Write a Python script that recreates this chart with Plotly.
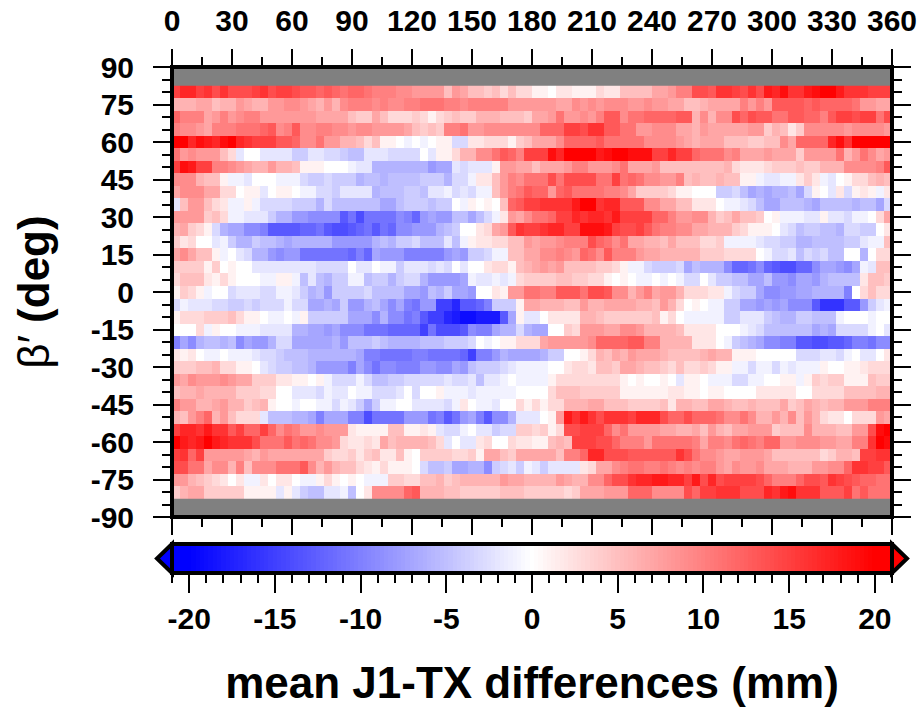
import numpy as np
import plotly.graph_objects as go

# mean J1-TX differences (mm), each latitude band from 0 to 360 deg in 4 deg bins
lat_p80 = [15,17,17,15,16,14,16,14,14,14,15,16,14,15,15,14,13,13,12,13,12,11,12,12,11,10,10,10,9,9,8,8,8,8,5,8,7,5,5,4,5,3,5,3,3,
           1,1,0,2,2,1,1,1,3,2,2,5,5,5,5,7,7,8,10,10,14,14,13,16,16,15,14,16,14,18,17,19,16,16,18,19,20,20,18,16,16,16,15,15,15]
lat_p75 = [6,6,6,7,7,5,6,6,8,7,6,6,8,8,9,9,8,7,6,8,6,9,10,10,10,9,10,9,9,10,10,11,11,11,10,10,9,10,10,10,10,10,8,8,8,
           8,8,8,7,7,9,8,9,8,9,9,9,8,8,9,8,8,7,7,5,5,6,7,7,7,7,10,8,10,8,13,13,13,13,12,13,12,12,12,12,11,8,8,7,7]
lat_p70 = [12,10,10,10,7,8,10,8,9,10,10,8,8,8,8,8,8,8,7,7,7,7,5,4,4,7,5,3,3,3,4,3,1,3,4,5,4,4,6,6,6,5,5,5,4,
           7,7,8,11,8,8,9,8,10,13,13,9,11,11,12,12,12,12,13,13,6,9,6,9,9,14,12,14,13,13,11,11,13,13,12,12,10,13,15,15,14,15,15,11,14]
lat_p65 = [10,9,9,8,7,10,10,10,11,11,11,12,13,9,10,13,9,9,10,10,9,9,8,9,9,8,8,8,8,7,5,4,5,4,10,10,11,8,8,9,9,9,9,9,9,
           9,12,12,12,15,15,14,16,16,13,13,11,11,8,8,9,9,9,7,7,6,8,7,7,7,7,7,8,8,4,6,5,2,4,9,9,9,9,9,8,9,9,9,9,8]
lat_p60 = [20,20,17,19,18,17,19,20,17,16,15,15,15,13,13,12,9,9,11,8,8,6,6,5,3,5,1,1,0,-1,0,-1,0,1,1,-3,-3,2,2,3,3,3,1,4,5,
           7,7,7,9,12,12,12,12,13,11,11,11,11,11,9,9,9,9,8,7,6,7,7,7,5,5,5,4,4,5,5,9,7,12,12,12,12,17,19,16,20,20,20,20,20]
lat_p55 = [11,8,9,8,8,8,5,3,-2,0,0,-2,-2,-2,-2,-4,-4,-2,-2,-3,-3,-4,-5,-5,-2,-2,-2,-3,-3,-3,-3,0,-2,1,1,3,6,6,9,9,11,13,12,10,15,
           15,15,19,17,20,20,20,20,18,19,20,20,19,19,19,15,15,17,15,15,12,11,11,11,9,10,7,7,7,8,7,7,7,4,8,8,8,8,11,6,8,11,9,7,8]
lat_p50 = [15,19,18,15,15,10,10,9,8,7,6,6,8,6,6,5,1,1,1,0,0,0,-1,-2,-2,-6,-6,-6,-6,-6,-6,-6,-8,-7,-7,-2,-3,-2,-2,-2,1,8,8,7,7,
           5,7,7,7,8,10,10,8,8,8,9,11,7,7,7,8,5,5,5,5,5,5,5,5,6,3,2,2,2,3,4,4,4,5,4,4,6,6,6,9,9,9,9,10,13]
lat_p45 = [9,9,9,6,5,5,1,-1,-1,-2,0,0,0,-1,-1,-1,-3,-4,-4,-3,-4,-4,-4,-6,-5,-5,-6,-5,-5,-5,-5,-4,-4,-4,-6,-3,-3,-1,2,2,5,8,10,9,11,
           11,11,14,11,14,14,14,14,11,11,15,11,12,11,9,9,8,8,10,5,6,5,5,6,5,5,1,1,-1,-2,-2,-1,-1,2,4,2,-1,-2,0,1,3,3,5,6,5]
lat_p40 = [7,9,9,9,7,7,3,3,0,1,1,-2,0,1,1,0,-1,-1,-3,-3,-4,-2,-2,-2,-2,-6,-5,-5,-5,-4,-4,-5,-2,-2,-1,-3,-2,-3,-1,-1,5,8,10,11,13,
           12,12,8,12,13,11,11,11,11,10,10,9,7,4,4,4,4,3,1,1,0,0,0,-4,-4,-3,-5,-7,-6,-7,-6,-6,-5,-7,-3,1,0,-2,2,-3,1,2,1,-1,2]
lat_p35 = [-2,5,8,8,5,3,2,-1,-1,1,-1,-3,-3,-3,-3,-4,-4,-4,-6,-3,-5,-5,-5,-5,-5,-5,-7,-7,-5,-4,-4,-4,-5,-4,-4,0,-1,1,0,1,0,5,12,13,15,
           15,16,16,16,16,18,20,20,16,17,17,13,13,13,9,9,7,7,5,5,2,2,2,0,-1,-1,-2,-3,-5,-7,-7,-5,-5,-5,-6,-7,-5,-5,-5,-5,-6,-5,-5,-7,-3]
lat_p30 = [8,8,8,8,4,5,3,-1,-1,-2,-2,-2,-4,-6,-6,-8,-8,-9,-9,-9,-9,-13,-11,-14,-11,-11,-11,-11,-9,-10,-12,-8,-7,-8,-8,-5,-5,-7,-5,-3,-1,2,8,7,9,
           11,11,12,15,15,17,16,17,17,16,18,15,15,15,15,12,12,10,8,8,9,9,6,4,5,7,5,5,4,0,1,-1,-1,-1,-2,-2,1,-2,-2,-3,-1,-1,0,3,7]
lat_p25 = [6,7,4,3,1,-3,-6,-7,-7,-9,-9,-10,-13,-13,-13,-13,-12,-12,-11,-13,-14,-14,-13,-12,-11,-13,-11,-12,-9,-9,-8,-8,-8,-6,-5,-4,0,0,2,3,7,8,13,16,15,
           15,16,17,17,15,15,19,19,19,18,15,14,14,15,13,11,10,10,9,9,7,7,6,6,6,4,3,1,1,1,0,-2,-3,-5,-4,-4,-5,-5,-6,-3,-3,-4,-4,0,2]
lat_p20 = [4,2,3,0,0,-2,-1,-4,-6,-6,-4,-5,-5,-6,-7,-6,-6,-6,-6,-6,-8,-8,-8,-8,-8,-6,-5,-6,-4,-4,-3,-5,-5,-5,-2,-5,-1,1,2,2,3,3,5,5,8,
           7,8,8,9,10,10,10,14,12,11,9,11,7,7,6,6,5,7,5,5,5,3,3,4,-1,-1,-1,-1,-2,-3,-3,-4,-4,-6,-6,-5,-5,-5,-5,-4,-4,-2,-1,-1,5]
lat_p15 = [7,9,7,5,5,1,-1,0,-2,-3,-6,-6,-8,-9,-8,-8,-11,-11,-11,-11,-11,-11,-12,-10,-12,-7,-8,-8,-8,-10,-10,-10,-10,-10,-8,-7,-8,-4,-4,-3,-1,-1,5,5,7,
           7,9,9,10,9,8,12,11,9,13,10,10,10,8,7,7,6,6,6,6,6,4,4,4,3,3,3,3,0,-1,-3,-3,-2,-5,-3,-4,-3,-5,-5,0,0,-6,0,3,3]
lat_p10 = [4,4,4,4,1,4,0,1,0,0,-2,-2,-2,-2,-2,-2,-2,-2,-3,-3,-3,-3,0,-2,-2,0,-1,-1,-4,-2,-2,-2,-3,-2,-3,0,-2,0,0,2,3,3,1,5,6,
           7,8,7,8,5,5,5,5,4,4,3,1,-1,-1,-3,-4,-4,-4,-3,-7,-5,-6,-6,-6,-9,-12,-12,-11,-9,-12,-13,-14,-14,-12,-12,-9,-7,-7,-8,-9,-7,-1,-2,5,5]
lat_p05 = [3,5,5,5,2,1,3,1,0,0,0,-1,-1,1,1,-1,-5,-2,-5,-6,-4,-4,-1,-1,-5,-4,-4,-6,-4,-3,-3,-6,-8,-8,-8,-8,-7,-1,-2,-2,-1,-2,-1,3,4,
           4,4,4,5,5,4,4,3,3,1,0,1,0,-1,-1,0,-1,0,-1,-3,-3,0,-2,-4,-4,-5,-5,-7,-7,-5,-8,-8,-9,-7,-7,-8,-6,-5,-5,-5,-5,2,5,5,4]
lat_000 = [1,4,3,1,-1,0,0,-3,-2,-2,-2,-3,-3,-1,-1,-2,-4,-6,-5,-8,-4,-4,-4,-4,-3,-5,-5,-5,-5,-7,-7,-8,-5,-6,-4,-7,-7,-8,0,0,2,1,8,8,11,
           11,10,10,13,13,13,11,14,14,13,9,9,6,8,10,7,8,8,6,3,3,3,2,2,-1,-3,-4,-4,-7,-9,-9,-8,-8,-7,-7,-6,-6,-6,-6,-10,0,3,5,3,3]
lat_m05 = [-3,-1,-2,-2,-2,-3,-3,-4,-4,-3,-4,-3,-3,-3,-1,-3,-3,-7,-7,-6,-7,-4,-8,-8,-6,-5,-7,-9,-7,-10,-11,-8,-8,-15,-15,-17,-13,-13,-12,-10,-4,-4,-4,1,7,
           7,6,6,6,5,5,8,6,6,7,7,7,7,6,6,5,8,6,3,0,1,0,-1,-1,-4,-4,-7,-7,-8,-7,-8,-7,-9,-9,-9,-13,-16,-16,-16,-13,-13,-8,-4,-2,-1]
lat_m10 = [1,3,3,3,4,4,4,5,3,1,1,0,-1,-1,0,-1,1,-4,-4,-4,-4,-4,-7,-7,-7,-9,-6,-9,-9,-11,-10,-13,-15,-15,-17,-18,-19,-19,-18,-18,-18,-13,-7,1,-2,
           -2,0,2,2,2,2,6,6,5,4,4,4,4,4,4,5,1,3,0,-1,-1,-1,-1,-1,-4,-4,-2,-2,-2,-4,-5,-6,-6,-4,-4,-5,-5,-5,-1,0,0,0,-1,0,0]
lat_m15 = [0,0,0,3,-1,1,0,0,-1,-1,-1,-2,-2,-2,-2,-6,-6,-7,-7,-8,-7,-9,-9,-9,-11,-11,-11,-12,-12,-12,-12,-15,-11,-14,-14,-14,-13,-9,-10,-10,-7,-6,-6,-3,-6,
           -7,-7,0,0,4,3,8,8,8,7,7,9,9,8,6,6,6,6,5,2,2,2,2,0,0,0,-1,-2,-3,-5,-5,-5,-5,-5,-5,-7,-6,-7,-3,-3,-3,-3,-1,0,-2]
lat_m20 = [-10,-7,-9,-6,-5,-5,-6,-5,-9,-7,-8,-8,-6,-3,-3,-7,-7,-7,-7,-7,-6,-8,-5,-5,-5,-4,-5,-6,-6,-6,-6,-5,-5,-5,-4,-4,-4,-3,0,-1,0,1,1,3,3,
           3,7,8,8,8,8,8,9,12,12,12,12,13,13,10,10,6,6,6,6,2,2,2,0,-1,-4,-5,-6,-7,-9,-9,-10,-10,-13,-13,-14,-14,-13,-13,-12,-10,-10,-11,-9,-9]
lat_m25 = [2,1,2,0,-1,-1,0,-1,-1,-1,-2,-3,-3,-4,-5,-5,-5,-6,-6,-6,-6,-6,-6,-7,-10,-10,-11,-11,-11,-11,-10,-10,-11,-11,-11,-11,-12,-15,-10,-10,-8,-6,-7,-7,-7,
           -7,-6,-4,-4,0,0,1,3,6,5,7,6,8,7,7,7,6,5,5,5,5,6,7,6,6,1,1,1,0,0,0,0,0,-3,-3,-3,-2,-2,-3,-1,0,-2,-2,0,2]
lat_m30 = [4,4,4,5,5,6,3,3,1,1,0,-2,-3,-4,-4,-5,-5,-6,-8,-8,-8,-8,-10,-7,-9,-11,-9,-9,-10,-10,-10,-8,-8,-9,-9,-7,-8,-5,-4,-4,-4,-3,-2,-1,-1,
           -1,-1,0,0,2,3,3,2,5,5,4,7,7,6,5,5,4,3,5,3,3,4,3,1,1,-1,-1,-3,-1,-1,-3,-1,-2,-1,-1,-1,1,0,0,1,1,2,3,3,3]
lat_m35 = [8,7,9,8,8,8,9,8,7,7,4,4,4,2,2,1,1,0,1,-1,-3,-3,-3,-1,-3,-5,-5,-4,-4,-3,-3,-3,-3,-3,-2,-3,-3,-2,-5,-2,-2,-1,0,-1,-1,
           -1,-1,1,3,3,3,3,3,3,3,3,1,0,1,0,0,1,0,-2,1,1,0,-1,-1,-1,-3,-3,-1,-1,0,0,1,1,-1,1,4,3,4,4,1,1,1,5,4,4]
lat_m40 = [5,6,6,7,6,6,6,6,4,4,4,3,3,0,0,-2,-2,-2,-3,-1,-2,-2,0,-1,-1,-3,-3,-3,-2,0,-3,0,0,1,-1,-1,-1,-2,-1,-1,-1,-1,-1,0,0,
           0,0,3,5,5,5,4,4,4,4,4,1,1,1,1,1,1,2,2,1,1,0,1,1,0,0,0,0,2,2,2,2,2,0,0,3,3,3,3,5,5,5,5,6,6]
lat_m45 = [10,8,8,6,6,7,8,6,6,4,5,6,1,0,0,-1,0,0,-1,-1,-3,-1,-2,-4,-7,-4,-1,-1,0,0,-2,-2,-2,-2,-3,-1,2,0,-1,-1,-2,0,0,3,1,
           3,1,3,3,6,6,6,7,7,5,5,5,4,4,4,4,5,2,6,6,5,5,7,7,6,5,5,6,5,5,5,7,4,5,7,6,5,6,6,8,8,8,10,10,10]
lat_m50 = [6,5,8,10,12,6,8,5,3,3,3,-2,-5,-5,-5,-6,-6,-7,-10,-7,-7,-7,-10,-10,-14,-11,-11,-11,-11,-8,-8,-8,-11,-10,-13,-11,-8,-7,-10,-13,-9,-9,-6,-2,-2,
           -2,0,1,8,18,16,18,16,14,16,16,16,15,17,17,17,14,12,12,14,12,12,12,11,9,9,11,9,6,6,8,6,9,5,8,6,3,2,2,0,3,3,3,8,7]
lat_m55 = [15,17,17,16,18,16,16,13,15,12,12,15,12,9,11,10,8,8,9,8,8,8,2,1,1,1,1,5,5,1,1,2,1,-2,-3,-3,-1,0,-2,-2,-4,-3,-3,4,4,
           3,4,1,3,14,14,15,15,15,12,9,11,8,8,8,8,7,7,6,6,7,5,8,6,5,7,7,8,8,8,4,5,5,5,9,6,6,6,5,5,8,8,14,19,20]
lat_m60 = [20,18,17,18,20,18,17,16,16,16,14,11,11,11,13,11,12,11,9,9,8,3,2,2,3,2,7,5,6,6,6,6,5,3,-2,0,-2,-2,2,3,0,0,3,2,2,
           1,1,5,6,5,15,15,15,14,14,12,10,10,10,8,11,11,11,11,11,10,7,10,10,9,11,12,11,10,12,12,8,8,9,9,9,8,8,7,7,10,10,16,20,19]
lat_m65 = [15,16,12,15,8,8,8,8,8,7,6,8,7,7,7,7,7,7,7,4,3,3,4,2,4,5,2,2,5,1,0,4,4,4,4,3,3,4,1,7,7,5,4,7,7,
           7,7,7,5,10,10,12,17,17,14,14,14,13,13,13,13,13,13,16,14,11,9,9,8,7,7,8,8,8,7,5,5,5,5,5,5,3,4,6,6,5,15,15,16,16]
lat_m70 = [14,14,11,11,7,9,9,6,10,5,9,9,9,11,11,11,13,9,6,8,6,5,5,3,2,1,3,1,1,1,0,-3,-5,-5,-4,-7,-7,-6,-6,-9,-4,-3,-2,-4,-1,
           -2,-4,-2,-2,-2,-2,2,3,7,7,9,10,11,11,10,10,11,10,9,10,9,10,10,8,7,9,8,8,9,7,7,7,6,6,6,8,8,9,9,12,16,16,15,15,13]
lat_m75 = [8,8,6,5,4,3,2,0,2,-1,-1,2,0,2,2,0,-1,-1,1,3,1,0,1,0,-1,-1,-1,4,4,3,3,5,5,6,4,5,6,6,6,6,6,8,7,7,6,
           6,6,6,8,7,6,6,9,9,12,14,14,16,17,17,18,18,17,17,15,18,14,17,14,15,15,15,15,14,12,10,10,10,12,14,14,13,16,15,14,13,12,12,11,11]
lat_m80 = [4,6,7,7,4,4,4,4,4,1,1,1,1,-2,1,-2,-4,-5,-5,-2,-2,-1,-5,0,2,9,9,9,9,12,13,6,6,6,5,5,4,4,4,4,4,5,5,5,4,
           4,4,4,4,3,4,7,7,7,8,8,8,12,12,12,9,9,9,9,14,12,15,15,16,16,16,14,14,14,17,16,18,19,16,16,16,13,13,13,15,11,13,11,11,11]

latitudes = [80,75,70,65,60,55,50,45,40,35,30,25,20,15,10,5,0,-5,-10,-15,-20,-25,-30,-35,-40,-45,-50,-55,-60,-65,-70,-75,-80]
band_values = [lat_p80,lat_p75,lat_p70,lat_p65,lat_p60,lat_p55,lat_p50,lat_p45,lat_p40,lat_p35,lat_p30,lat_p25,lat_p20,lat_p15,lat_p10,lat_p05,
               lat_000,lat_m05,lat_m10,lat_m15,lat_m20,lat_m25,lat_m30,lat_m35,lat_m40,lat_m45,lat_m50,lat_m55,lat_m60,lat_m65,lat_m70,lat_m75,lat_m80]
longitudes = list(range(2, 360, 4))

lon_ticks = [0,30,60,90,120,150,180,210,240,270,300,330,360]
lat_ticks = [90,75,60,45,30,15,0,-15,-30,-45,-60,-75,-90]
lat_labels = ["90","75","60","45","30","15","0","-15","-30","-45","-60","-75","-90"]
scale_ticks = [-20,-15,-10,-5,0,5,10,15,20]
scale_labels = ["-20","-15","-10","-5","0","5","10","15","20"]

W, H = 922, 708
L, R, T, B = 172, 892, 67, 573      # pixel edges of the plotting block
MAIN_BOTTOM, BAR_TOP = 517, 544
PH = B - T
FAM = "Liberation Sans"
colorscale = [[0, "#0000ff"], [1/42, "#0000ff"], [0.5, "#ffffff"], [41/42, "#ff0000"], [1, "#ff0000"]]
tickf = dict(family=FAM, size=30, color="black", weight="bold")


def px(x):
    return (x - L) / (R - L)


def py(y):
    return (B - y) / PH


fig = go.Figure()
fig.add_trace(go.Heatmap(x=longitudes, y=latitudes, z=band_values, zmin=-21, zmax=21,
                         colorscale=colorscale, showscale=False, xaxis="x", yaxis="y", hoverongaps=False))
scale_x = np.arange(-21, 21.01, 0.25)
fig.add_trace(go.Heatmap(x=scale_x, y=[0, 1], z=[scale_x, scale_x], zmin=-21, zmax=21,
                         colorscale=colorscale, showscale=False, xaxis="x2", yaxis="y2"))

frame = dict(type="rect", x0=0, x1=1, y0=0, y1=1, line=dict(color="black", width=4), layer="above")
shapes = [
    dict(frame, xref="x domain", yref="y domain"),
    dict(frame, xref="x2 domain", yref="y2 domain"),
    dict(type="path", xref="paper", yref="paper", layer="above", fillcolor="#0000ff",
         line=dict(color="black", width=4),
         path=f"M {px(L)} {py(BAR_TOP)} L {px(157)} {py((BAR_TOP+B)/2)} L {px(L)} {py(B)} Z"),
    dict(type="path", xref="paper", yref="paper", layer="above", fillcolor="#ff0000",
         line=dict(color="black", width=4),
         path=f"M {px(R)} {py(BAR_TOP)} L {px(907)} {py((BAR_TOP+B)/2)} L {px(R)} {py(B)} Z"),
]

fig.update_layout(
    width=W, height=H, autosize=False,
    margin=dict(l=L, r=W - R, t=T, b=H - B, pad=0, autoexpand=False),
    paper_bgcolor="white", plot_bgcolor="#808080",
    shapes=shapes, font=dict(family=FAM, color="black"),
    xaxis=dict(domain=[0, 1], anchor="y", side="top", range=[0, 360], tickmode="array", tickvals=lon_ticks,
               ticks="outside", ticklen=17, tickwidth=2, tickcolor="black", mirror="ticks", showline=False,
               showgrid=False, zeroline=False, tickfont=tickf, tickangle=0, ticklabelstandoff=6, automargin=False,
               minor=dict(ticks="outside", dtick=15, tick0=0, ticklen=9, tickwidth=2, tickcolor="black", showgrid=False)),
    yaxis=dict(domain=[py(MAIN_BOTTOM), 1], anchor="x", range=[-90, 90], tickmode="array", tickvals=lat_ticks,
               ticktext=lat_labels, ticks="outside", ticklen=18, tickwidth=2, tickcolor="black", mirror="ticks",
               showline=False, showgrid=False, zeroline=False, tickfont=tickf, ticklabelstandoff=13, automargin=False,
               minor=dict(ticks="outside", dtick=5, tick0=0, ticklen=9, tickwidth=2, tickcolor="black", showgrid=False),
               title=dict(text="β′ <b>(deg)</b>", font=dict(family=FAM, size=44, color="black"), standoff=27)),
    xaxis2=dict(domain=[0, 1], anchor="y2", side="bottom", range=[-21, 21], tickmode="array", tickvals=scale_ticks,
                ticktext=scale_labels, ticks="outside", ticklen=19, tickwidth=2, tickcolor="black", showline=False,
                showgrid=False, zeroline=False, tickfont=tickf, ticklabelstandoff=0, automargin=False,
                minor=dict(ticks="outside", dtick=1, tick0=-20, ticklen=9, tickwidth=2, tickcolor="black", showgrid=False),
                title=dict(text="<b>mean J1-TX differences (mm)</b>", font=dict(family=FAM, size=44, color="black"), standoff=33)),
    yaxis2=dict(domain=[0, py(BAR_TOP)], anchor="x2", range=[0, 1], visible=False, fixedrange=True),
)
fig.write_html("out.html", post_script="document.body.style.margin='0';", config={"displayModeBar": False})
